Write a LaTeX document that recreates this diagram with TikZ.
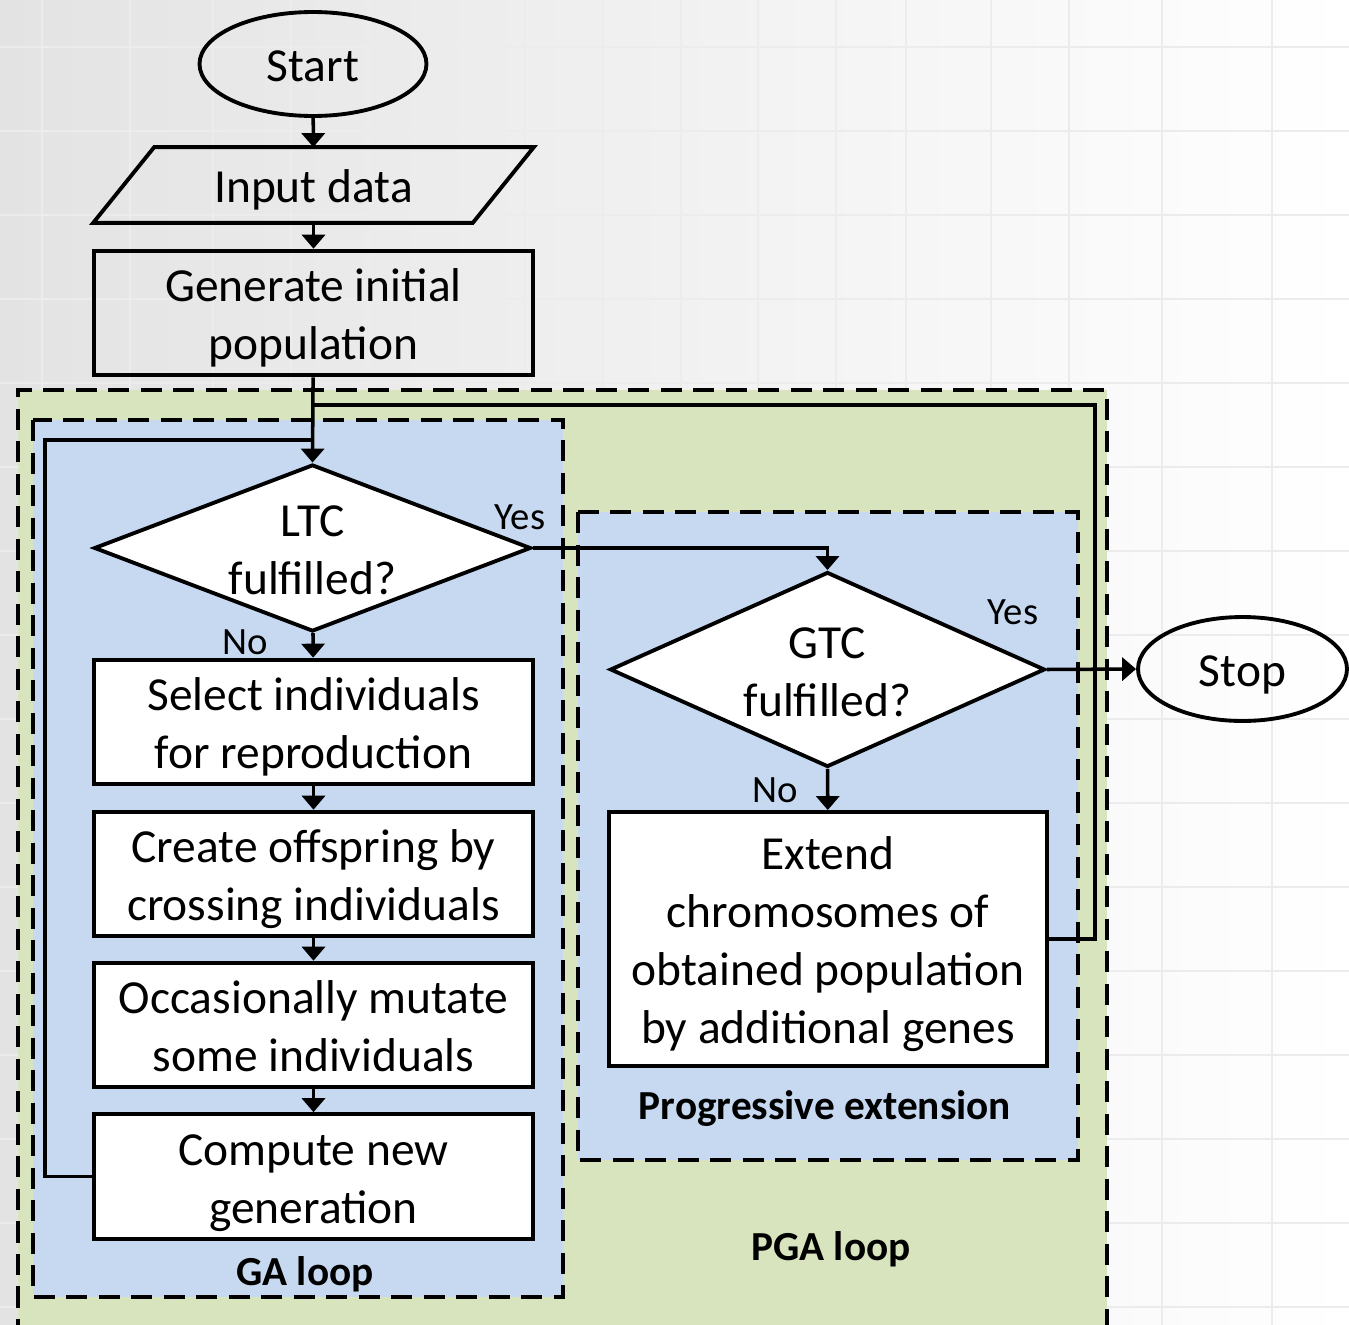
\documentclass[tikz,border=0pt]{standalone}
\usepackage{fontspec}
\setmainfont{Carlito}
\usetikzlibrary{shapes.geometric,arrows.meta}
\definecolor{pgagreen}{HTML}{D7E4BD}
\definecolor{gablue}{HTML}{C6D9F1}
\definecolor{gridgray}{HTML}{ECECEC}
\definecolor{bgleft}{HTML}{E3E3E3}
\newcommand{\tstrut}{\rule{0pt}{29pt}}
\newcommand{\bstrut}{\rule[-9pt]{0pt}{0pt}}
\tikzset{
  txt/.style={font=\fontsize{27}{33}\selectfont},
  block/.style={txt,rectangle,draw,line width=2.2pt,minimum width=8.78cm,minimum height=2.44cm,align=center,inner sep=0pt},
  decision/.style={txt,diamond,draw,fill=white,line width=2.2pt,align=center,inner sep=-1cm},
  term/.style={txt,ellipse,draw,line width=2.2pt,minimum height=2.08cm,inner sep=0pt},
  loopbox/.style={line width=2.8pt,dash pattern=on 12pt off 6.5pt},
  conn/.style={line width=2pt},
  arr/.style={conn,-{Triangle[width=0.46cm,length=0.28cm]}},
  tag/.style={font=\fontsize{22}{26}\selectfont,inner sep=0pt},
  looptag/.style={font=\bfseries\fontsize{23.5}{28}\selectfont,inner sep=0pt}
}

\begin{document}
\begin{tikzpicture}[x=0.02cm,y=-0.02cm]
\useasboundingbox (0,0) rectangle (1349,1325);
\clip (0,0) rectangle (1349,1325);
\shade[left color=bgleft,right color=white] (0,0) rectangle (1349,1325);
\foreach \gy in {47,131,215,299,383,467,551,635,719,803,887,971,1055,1139,1223,1307}
  \draw[gridgray,line width=1pt] (0,\gy) -- (1349,\gy);
\foreach \gx in {42,130,213,291,369,447,525,603,681,758,836,906,991,1069,1162,1272}
  \draw[gridgray,line width=1pt] (\gx,0) -- (\gx,1325);

\fill[pgagreen] (18,390) rectangle (1107,1340);
\draw[loopbox] (18,1340) -- (18,390) -- (1107,390) -- (1107,1340);
\fill[gablue] (33,420) rectangle (563,1297);
\draw[loopbox] (33,420) rectangle (563,1297);
\fill[gablue] (578,512) rectangle (1078,1160);
\draw[loopbox] (578,512) rectangle (1078,1160);

\node[term,minimum width=4.54cm] (start) at (313,64) {\tstrut Start\bstrut};
\node[txt,rectangle,minimum width=7.58cm,minimum height=1.5cm,inner sep=0pt] (input) at (313.5,185) {\tstrut Input data\bstrut};
\draw[line width=2.2pt] ([xshift=0.61cm]input.north west) -- ([xshift=0.61cm]input.north east)
  -- ([xshift=-0.61cm]input.south east) -- ([xshift=-0.61cm]input.south west) -- cycle;
\node[block] (gen) at (313.5,313) {\tstrut Generate initial\\population\bstrut};
\node[decision,minimum width=8.74cm,minimum height=3.34cm] (ltc) at (312.5,548) {\tstrut LTC\\fulfilled?\bstrut};
\node[block,fill=white] (select) at (313.5,722) {\tstrut Select individuals\\for reproduction\bstrut};
\node[block,fill=white] (cross) at (313.5,874) {\tstrut Create offspring by\\crossing individuals\bstrut};
\node[block,fill=white] (mutate) at (313.5,1025) {\tstrut Occasionally mutate\\some individuals\bstrut};
\node[block,fill=white] (compute) at (313.5,1176.5) {\tstrut Compute new\\generation\bstrut};
\node[decision,minimum width=8.7cm,minimum height=3.9cm] (gtc) at (827.5,669.5) {\tstrut GTC\\fulfilled?\bstrut};
\node[block,fill=white,minimum width=8.76cm,minimum height=5.08cm] (extend) at (828,939)
  {\tstrut Extend\\chromosomes of\\obtained population\\by additional genes\bstrut};
\node[term,minimum width=4.18cm] (stop) at (1242.5,669) {\tstrut Stop\bstrut};

\node[tag] (ltcyes) at (520,517) {Yes};
\node[tag] (ltcno) at (245,642) {No};
\node[tag] (gtcyes) at (1013,612) {Yes};
\node[tag] (gtcno) at (775,790) {No};
\node[looptag] (galabel) at (305,1274) {GA loop};
\node[looptag] (pelabel) at (825,1108) {Progressive extension};
\node[looptag] (pgalabel) at (831,1249) {PGA loop};

\coordinate (pgajoin) at (313.5,405);
\coordinate (pgaright) at (1095,405);
\coordinate (gajoin) at (313.5,440);
\coordinate (galeft) at (45,440);

\draw[arr] (start) -- (input);
\draw[arr] (input) -- (gen);
\draw[arr] (gen) -- (ltc.north);
\draw[arr] (ltc) -- (select);
\draw[arr] (select) -- (cross);
\draw[arr] (cross) -- (mutate);
\draw[arr] (mutate) -- (compute);
\draw[conn] (compute.west) -| (galeft) -- (gajoin);
\draw[arr] (ltc.east) -| (gtc.north);
\draw[arr] (gtc) -- (extend);
\draw[arr] (gtc.east) -- (stop.west);
\draw[conn] (extend.east) -| (pgaright) -- (pgajoin);
\end{tikzpicture}
\end{document}
